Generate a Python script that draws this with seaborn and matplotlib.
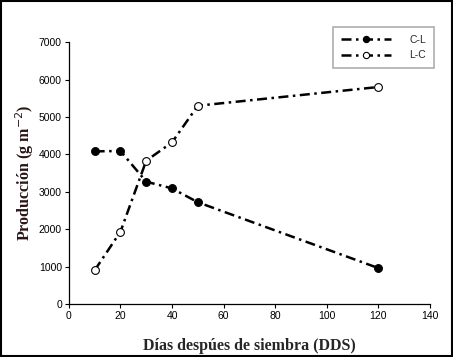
import matplotlib
matplotlib.use("Agg")
import matplotlib.pyplot as plt
import seaborn as sns
import pandas as pd

dias = [10, 20, 30, 40, 50, 120]
cl_prod = [4080, 4090, 3270, 3090, 2720, 960]
lc_prod = [900, 1930, 3830, 4320, 5300, 5800]

df = pd.DataFrame({
    "Dias": dias + dias,
    "Prod": cl_prod + lc_prod,
    "Serie": ["C-L"] * len(dias) + ["L-C"] * len(dias),
})

sns.set_style("ticks")
plt.rcParams["font.family"] = ["Liberation Sans", "DejaVu Sans"]

fig = plt.figure(figsize=(4.53, 3.57), dpi=100)
ax = fig.add_axes([0.152, 0.1485, 0.797, 0.7335])

dash = (0, (4, 1.8, 1, 1.8))
for serie, face in [("C-L", "black"), ("L-C", "white")]:
    sub = df[df["Serie"] == serie]
    sns.lineplot(data=sub, x="Dias", y="Prod", ax=ax, color="black", lw=1.8,
                 marker="o", markersize=5.6, markerfacecolor=face,
                 markeredgecolor="black", markeredgewidth=0.8, label=serie)
    ax.lines[-1].set_linestyle(dash)

ax.set_xlim(0, 140)
ax.set_ylim(0, 7000)
ax.set_xticks(range(0, 141, 20))
ax.set_yticks(range(0, 7001, 1000))
ax.tick_params(labelsize=7.5, length=3, width=0.8, colors="black", pad=2)
for s in ["top", "right"]:
    ax.spines[s].set_visible(False)
for s in ["left", "bottom"]:
    ax.spines[s].set_linewidth(0.9)
    ax.spines[s].set_color("black")

ax.set_xlabel("Días despúes de siembra (DDS)", family="Liberation Serif",
              fontweight="bold", fontsize=11.5, labelpad=12)
ax.set_ylabel("Producción (g m$^{-2}$)", family="Liberation Serif",
              fontweight="bold", fontsize=11.5, color="#2a1515", labelpad=2)

leg = ax.legend(loc="upper right", bbox_to_anchor=(0.958, 0.924),
                bbox_transform=fig.transFigure, borderaxespad=0,
                fontsize=7.5, frameon=True, fancybox=False,
                edgecolor="#999999", handlelength=4.8, markerfirst=True,
                borderpad=0.75, labelspacing=0.5, handletextpad=1.8)
leg.get_frame().set_linewidth(1.2)
for h in leg.legend_handles:
    h.set_markersize(4.5)

fig.patches.append(plt.Rectangle((0.002, 0.002), 0.996, 0.996, fill=False,
                                 edgecolor="black", lw=1.5,
                                 transform=fig.transFigure, figure=fig))

fig.savefig("out.png", dpi=100)
